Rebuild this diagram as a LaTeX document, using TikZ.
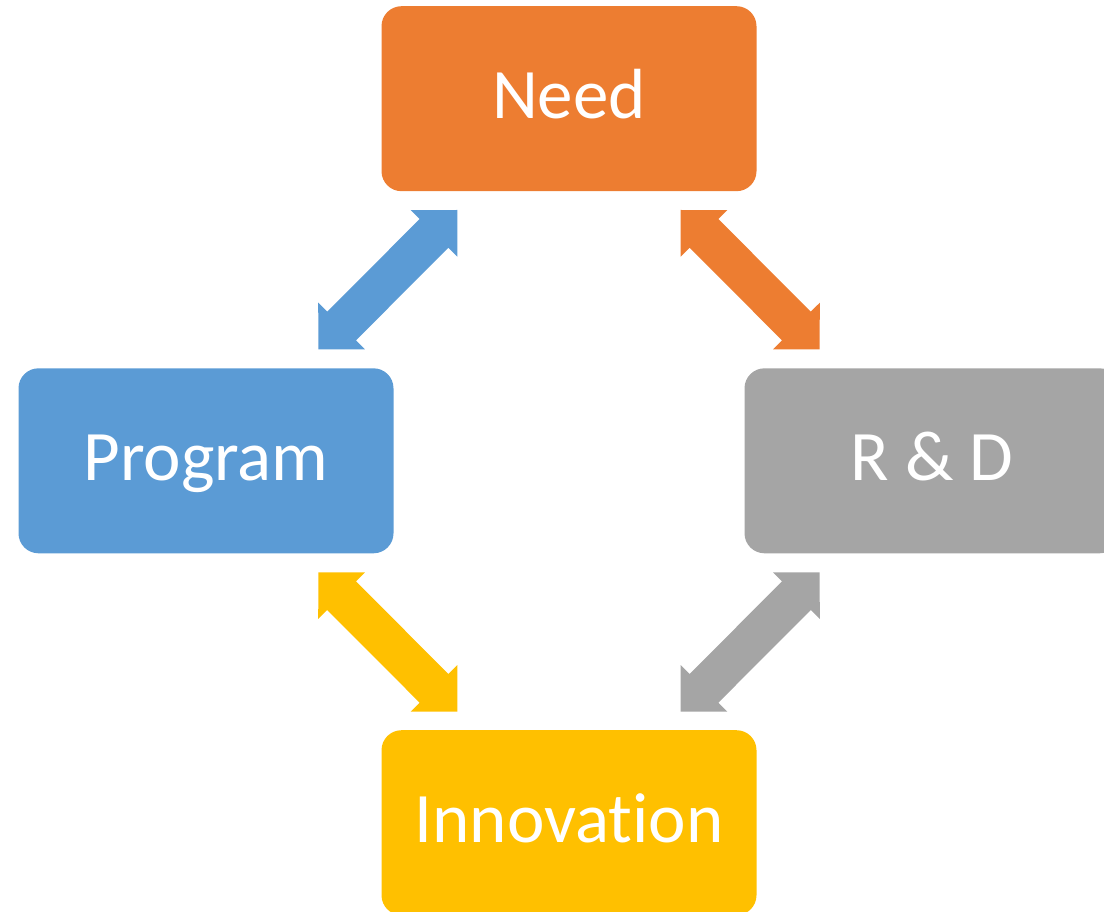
\documentclass[tikz,border=0pt]{standalone}
\usepackage{fontspec}
\setmainfont[Ligatures={NoCommon,NoContextual}]{Carlito}
\usetikzlibrary{calc}
\definecolor{cOrange}{HTML}{ED7D31}
\definecolor{cBlue}{HTML}{5B9BD5}
\definecolor{cGray}{HTML}{A5A5A5}
\definecolor{cYellow}{HTML}{FFC000}
\newcommand\blockarrow[3]{%
  \fill[#1] (#2)
    -- ($(#2)!33pt!(#3)!33pt!90:(#3)$)
    -- ($(#2)!33pt!(#3)!20.3pt!90:(#3)$)
    -- ($(#3)!33pt!(#2)!20.3pt!-90:(#2)$)
    -- ($(#3)!33pt!(#2)!33pt!-90:(#2)$)
    -- (#3)
    -- ($(#3)!33pt!(#2)!33pt!90:(#2)$)
    -- ($(#3)!33pt!(#2)!20.3pt!90:(#2)$)
    -- ($(#2)!33pt!(#3)!20.3pt!-90:(#3)$)
    -- ($(#2)!33pt!(#3)!33pt!-90:(#3)$)
    -- cycle;}
\begin{document}
\begin{tikzpicture}[x=1pt,y=-1pt,
  box/.style={rectangle, rounded corners=20pt, minimum width=375pt, minimum height=185pt,
    inner sep=0pt, text=white, font=\fontsize{71}{85}\selectfont,
    text height=50pt, text depth=10.8pt}]
\useasboundingbox (0,0) rectangle (1104,912);
\clip (0,0) rectangle (1104,912);
\node[box, fill=cOrange] (need) at (569,98.7) {Need};
\node[box, fill=cBlue] (prog) at (206,460.8) {Program};
\node[box, fill=cGray] (rd) at (932,460.8) {R \& D};
\node[box, fill=cYellow] (innov) at (569,822.7) {Innovation};
\coordinate (b1) at (457.3,210);
\coordinate (b2) at (318.3,349.4);
\coordinate (o1) at (680.7,210);
\coordinate (o2) at (819.7,349.4);
\coordinate (y1) at (318.3,572.3);
\coordinate (y2) at (457.3,711.7);
\coordinate (g1) at (819.7,572.3);
\coordinate (g2) at (680.7,711.7);
\blockarrow{cBlue}{b1}{b2}
\blockarrow{cOrange}{o1}{o2}
\blockarrow{cYellow}{y1}{y2}
\blockarrow{cGray}{g1}{g2}
\end{tikzpicture}
\end{document}
